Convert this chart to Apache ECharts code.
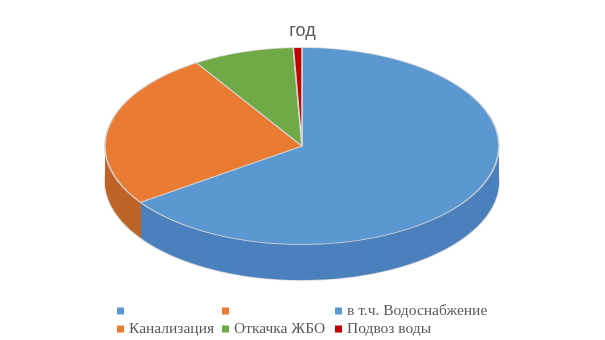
<!DOCTYPE html>
<html><head><meta charset="utf-8">
<script src="https://cdn.jsdelivr.net/npm/echarts@6/dist/echarts.min.js"></script>
<style>
html,body{margin:0;padding:0;background:#fff;}
#wrap{position:relative;width:605px;height:340px;overflow:hidden;}
#pie{position:absolute;left:0;top:0;width:605px;height:680px;transform:scaleY(0.5);transform-origin:0 0;}
#main{position:absolute;left:0;top:0;width:605px;height:340px;}
</style></head>
<body><div id="wrap"><div id="pie"></div><div id="main"></div></div>
<script>
const titleText = 'год';
const categories = ['', '', 'в т.ч. Водоснабжение', 'Канализация', 'Откачка ЖБО', 'Подвоз воды'];
const values = [0, 0, 65.3, 25.7, 8.3, 0.7];
const topColors = ['#5b97d1', '#e97b32', '#5b97d1', '#e97b32', '#70aa46', '#c00000'];
const sideColors = ['#4b80bd', '#bf6429', '#4b80bd', '#bf6429', '#5c8f39', '#9a0000'];

const names = categories.map((c, i) => c || '\u200b'.repeat(i + 1));

// pie (drawn in a vertically squashed container to get the tilted look)
const pieChart = echarts.init(document.getElementById('pie'), null, {renderer: 'canvas'});
const cx = 302, cy = 292, R = 197, depth = 72, step = 2;
const series = [];
function makeData(colors, border) {
  return names.map((n, i) => ({
    name: n, value: values[i],
    itemStyle: {color: colors[i], borderColor: '#d4d4d4', borderWidth: values[i] > 0 ? border : 0}
  }));
}
for (let d = depth; d >= step; d -= step) {
  series.push({
    type: 'pie', silent: true, animation: false, startAngle: 90, clockwise: true,
    center: [cx, cy + d], radius: [0, R], label: {show: false}, labelLine: {show: false},
    data: makeData(sideColors, d === depth ? 1.5 : 0)
  });
}
series.push({
  type: 'pie', silent: true, animation: false, startAngle: 90, clockwise: true,
  center: [cx, cy], radius: [0, R], label: {show: false}, labelLine: {show: false},
  data: makeData(topColors, 1.6)
});
pieChart.setOption({animation: false, series});

// title + legend
const main = echarts.init(document.getElementById('main'), null, {renderer: 'canvas'});
const legendBase = {
  orient: 'vertical', itemWidth: 7, itemHeight: 7, itemGap: 2, padding: 0, top: 303,
  icon: 'rect', selectedMode: false,
  textStyle: {fontFamily: 'Liberation Serif', fontSize: 15.5, color: '#595959', lineHeight: 16}
};
main.setOption({
  animation: false,
  title: {text: titleText, left: 'center', top: 17,
    textStyle: {fontFamily: 'Liberation Sans', fontSize: 18, fontWeight: 'normal', color: '#595959'}},
  legend: [
    Object.assign({}, legendBase, {left: 117, data: [names[0], names[3]]}),
    Object.assign({}, legendBase, {left: 222, data: [names[1], names[4]]}),
    Object.assign({}, legendBase, {left: 335, data: [names[2], names[5]]})
  ],
  series: [{
    type: 'pie', radius: [0, 0], center: [-100, -100], silent: true, label: {show: false},
    data: names.map((n, i) => ({name: n, value: values[i], itemStyle: {color: topColors[i]}}))
  }]
});
</script></body></html>
